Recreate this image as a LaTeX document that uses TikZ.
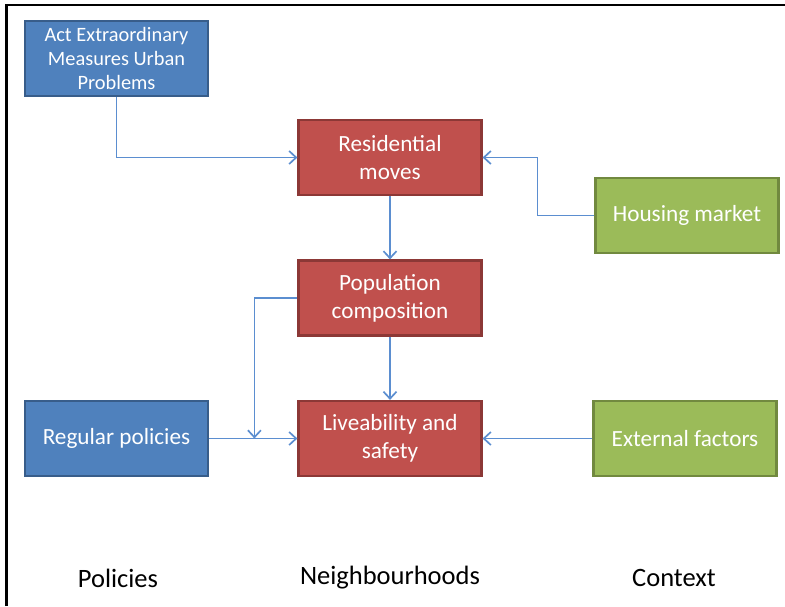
\documentclass[tikz,border=0pt]{standalone}
\usepackage{fontspec}
\setmainfont{Carlito}
\usetikzlibrary{arrows.meta}
\definecolor{bluefill}{HTML}{4F81BD}
\definecolor{blueedge}{HTML}{385D8A}
\definecolor{redfill}{HTML}{C0504D}
\definecolor{rededge}{HTML}{8C3836}
\definecolor{greenfill}{HTML}{9BBB59}
\definecolor{greenedge}{HTML}{71893F}
\definecolor{conn}{HTML}{5B8ED0}
\tikzset{
  box/.style={draw, line width=2.2pt, minimum width=183pt, minimum height=75pt,
    inner sep=0pt, text=white, align=center, font=\fontsize{23.2}{28}\selectfont},
  bluebox/.style={box, fill=bluefill, draw=blueedge},
  redbox/.style={box, fill=redfill, draw=rededge},
  greenbox/.style={box, fill=greenfill, draw=greenedge},
  conn/.style={draw=conn, line width=1.7pt, -{Straight Barb[length=7pt,width=13pt,line width=1.7pt]}},
  colhead/.style={font=\fontsize{26.5}{30}\selectfont, text=black},
}
\begin{document}
\begin{tikzpicture}[x=1pt,y=-1pt]
\useasboundingbox (0,0) rectangle (785,606);
\draw[line width=2.5pt] (6.5,606) -- (6.5,5) -- (785,5);
\node[bluebox, font=\fontsize{20.4}{24}\selectfont] (act) at (116.5,58.5) {Act Extraordinary\\Measures Urban\\Problems};
\node[redbox] (res) at (390,157.5) {Residential\\moves};
\node[greenbox] (house) at (687,215.5) {Housing market};
\node[redbox] (pop) at (390,298) {Population\\composition};
\node[bluebox] (reg) at (116.5,438.5) {Regular policies};
\node[redbox] (live) at (390,438.5) {Liveability and\\safety};
\node[greenbox] (ext) at (685,438.5) {External factors};
\node[colhead] (lpol) at (118,578) {Policies};
\node[colhead] (lnb) at (390,578) {Neighbourhoods};
\node[colhead] (lctx) at (674,578) {Context};
\draw[conn] (act.south) |- (res.west);
\draw[conn] (house.west) -- ++(-57,0) |- (res.east);
\draw[conn] (res.south) -- (pop.north);
\draw[conn] (pop.west) -- ++(-43,0) coordinate (pk) -- (pk |- reg.east);
\draw[conn] (pop.south) -- (live.north);
\draw[conn] (reg.east) -- (live.west);
\draw[conn] (ext.west) -- (live.east);
\end{tikzpicture}
\end{document}
